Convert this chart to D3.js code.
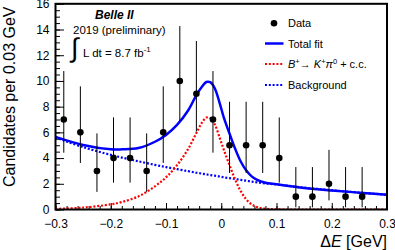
<!DOCTYPE html>
<html>
<head>
<meta charset="utf-8">
<script src="https://cdn.jsdelivr.net/npm/d3@7"></script>
<style>
  body { margin: 0; background: #fff; }
  text { font-family: 'Liberation Sans', Arial, sans-serif; fill: #000; }
</style>
</head>
<body>
<script>
// histogram bins (0.03 GeV wide)
const binCenters = [-0.285, -0.255, -0.225, -0.195, -0.165, -0.135, -0.105, -0.075, -0.045, -0.015,
  0.015, 0.045, 0.075, 0.105, 0.135, 0.165, 0.195, 0.225, 0.255, 0.285]
const counts = [7, 6, 3, 4, 4, 3, 6, 10, 9, 7, 5, 5, 5, 4, 1, 1, 2, 1, 1, 0]
const errLow = [2.58, 2.38, 1.63, 1.91, 1.91, 1.63, 2.38, 3.11, 2.94, 2.58, 2.16, 2.16, 2.16, 1.91, 0.83, 0.83, 1.29, 0.83, 0.83, 0]
const errHigh = [3.77, 3.58, 2.92, 3.16, 3.16, 2.92, 3.58, 4.27, 4.11, 3.77, 3.38, 3.38, 3.38, 3.16, 2.30, 2.30, 2.64, 2.30, 2.30, 0]

// fit curves
const curveX = [-0.30, -0.25, -0.20, -0.18, -0.15, -0.12, -0.10, -0.08, -0.06, -0.045, -0.035, -0.027, -0.02, -0.012,
  -0.003, 0.005, 0.015, 0.025, 0.035, 0.045, 0.055, 0.065, 0.08, 0.10, 0.15, 0.20, 0.25, 0.30]
const totalFit = [5.65, 5.02, 4.68, 4.68, 4.78, 5.27, 5.8, 6.58, 7.7, 8.9, 9.55, 9.92, 9.9, 9.45,
  8.3, 7.1, 5.9, 4.74, 3.75, 3.05, 2.58, 2.3, 2.08, 1.96, 1.68, 1.48, 1.31, 1.15]
const signal = [0.05, 0.15, 0.4, 0.58, 1.02, 1.8, 2.5, 3.45, 4.7, 5.95, 6.75, 7.15, 7.12, 6.65,
  5.6, 4.6, 3.45, 2.35, 1.45, 0.8, 0.4, 0.19, 0.06, 0.01, 0, 0, 0, 0]
const background = [5.6, 4.85, 4.25, 4.04, 3.75, 3.47, 3.3, 3.14, 2.98, 2.86, 2.79, 2.73, 2.68, 2.63,
  2.57, 2.5, 2.44, 2.37, 2.3, 2.24, 2.17, 2.11, 2.03, 1.95, 1.7, 1.5, 1.31, 1.15]

const xTicks = [-0.3, -0.2, -0.1, 0, 0.1, 0.2, 0.3]
const yTicks = [0, 2, 4, 6, 8, 10, 12, 14, 16]

let width = 395,
  height = 250,
  frame = { left: 55.5, right: 387, top: 3.8, bottom: 209.5 }

let svg = d3.select('body').append('svg')
  .attr('width', width)
  .attr('height', height)

let x = d3.scaleLinear().domain([-0.3, 0.3]).range([frame.left, frame.right])
let y = d3.scaleLinear().domain([0, 16]).range([frame.bottom, frame.top])

svg.append('clipPath').attr('id', 'clip')
  .append('rect')
  .attr('x', frame.left).attr('y', frame.top)
  .attr('width', frame.right - frame.left).attr('height', frame.bottom - frame.top)

// axes, ticks inside the frame
let fmt = d => d === 0 ? '0' : d3.format('.1f')(d)

let axisX = d3.axisBottom(x).tickValues(xTicks).tickFormat(fmt).tickSizeInner(-6.5).tickSizeOuter(0).tickPadding(10)
let axisXMinor = d3.axisBottom(x).tickValues(d3.range(-0.3, 0.3001, 0.02)).tickFormat('').tickSizeInner(-3.5).tickSizeOuter(0)
let axisY = d3.axisLeft(y).tickValues(yTicks).tickSizeInner(-8.5).tickSizeOuter(0).tickPadding(6)
let axisYMinor = d3.axisLeft(y).tickValues(d3.range(0, 16.01, 0.5)).tickFormat('').tickSizeInner(-4.5).tickSizeOuter(0)

svg.append('g').attr('transform', 'translate(0,' + frame.bottom + ')').call(axisXMinor)
let gx = svg.append('g').attr('transform', 'translate(0,' + frame.bottom + ')').call(axisX)
svg.append('g').attr('transform', 'translate(' + frame.left + ',0)').call(axisYMinor)
let gy = svg.append('g').attr('transform', 'translate(' + frame.left + ',0)').call(axisY)

svg.selectAll('.domain').remove()
svg.selectAll('.tick line').attr('stroke', '#000').attr('stroke-width', 1)
gx.selectAll('text').attr('font-size', 12).attr('font-family', 'Liberation Sans, Arial, sans-serif')
gy.selectAll('text').attr('font-size', 12).attr('font-family', 'Liberation Sans, Arial, sans-serif')

// curves
let line = ys => d3.line()
  .x((d, i) => x(curveX[i]))
  .y((d, i) => y(ys[i]))
  .curve(d3.curveCatmullRom.alpha(0.5))(curveX)

let curves = svg.append('g').attr('clip-path', 'url(#clip)')

curves.append('path')
  .attr('d', line(background))
  .attr('fill', 'none')
  .attr('stroke', '#0000ff')
  .attr('stroke-width', 2.2)
  .attr('stroke-dasharray', '2,1.8')

curves.append('path')
  .attr('d', line(signal))
  .attr('fill', 'none')
  .attr('stroke', '#ff0000')
  .attr('stroke-width', 2.2)
  .attr('stroke-dasharray', '2,1.8')

curves.append('path')
  .attr('d', line(totalFit))
  .attr('fill', 'none')
  .attr('stroke', '#0000ff')
  .attr('stroke-width', 2.5)

// data points with poisson error bars (empty bins not drawn)
let shown = counts.map((c, i) => i).filter(i => counts[i] > 0)

let points = svg.append('g').selectAll('g')
  .data(shown)
  .enter()
  .append('g')

points.append('line')
  .attr('x1', i => x(binCenters[i])).attr('x2', i => x(binCenters[i]))
  .attr('y1', i => y(counts[i] - errLow[i]))
  .attr('y2', i => y(counts[i] + errHigh[i]))
  .attr('stroke', '#000')
  .attr('stroke-width', 1)

points.append('circle')
  .attr('cx', i => x(binCenters[i]))
  .attr('cy', i => y(counts[i]))
  .attr('r', 3.3)
  .attr('fill', '#000')

// frame
svg.append('rect')
  .attr('x', frame.left).attr('y', frame.top)
  .attr('width', frame.right - frame.left).attr('height', frame.bottom - frame.top)
  .attr('fill', 'none')
  .attr('stroke', '#000')
  .attr('stroke-width', 2)

// axis titles
svg.append('text')
  .attr('x', 387).attr('y', 247)
  .attr('text-anchor', 'end')
  .attr('font-size', 16)
  .html('Δ<tspan font-style="italic">E</tspan> [GeV]')

svg.append('text')
  .attr('transform', 'translate(14.5,6.5) rotate(-90)')
  .attr('text-anchor', 'end')
  .attr('font-size', 16)
  .text('Candidates per 0.03 GeV')

// Belle II label
svg.append('text')
  .attr('x', 95).attr('y', 18.5)
  .attr('font-size', 12)
  .attr('font-weight', 'bold')
  .attr('font-style', 'italic')
  .text('Belle II')

svg.append('text')
  .attr('x', 73).attr('y', 33.5)
  .attr('font-size', 11.5)
  .text('2019 (preliminary)')

svg.append('text')
  .attr('x', 71).attr('y', 57)
  .attr('font-size', 27)
  .attr('font-family', 'DejaVu Sans')
  .text('∫')

svg.append('text')
  .attr('x', 83).attr('y', 57)
  .attr('font-size', 11.5)
  .html('L dt = 8.7 fb<tspan font-size="8" dy="-5">-1</tspan>')

// legend
let leg = svg.append('g').attr('font-size', 11)
let legX = 265, legTextX = 288

leg.append('circle').attr('cx', 274).attr('cy', 23.3).attr('r', 3.3).attr('fill', '#000')
leg.append('text').attr('x', legTextX).attr('y', 27.3).text('Data')

leg.append('line').attr('x1', legX).attr('x2', 283.5).attr('y1', 43.5).attr('y2', 43.5)
  .attr('stroke', '#0000ff').attr('stroke-width', 2.5)
leg.append('text').attr('x', legTextX).attr('y', 47.5).text('Total fit')

leg.append('line').attr('x1', legX).attr('x2', 283.5).attr('y1', 64).attr('y2', 64)
  .attr('stroke', '#ff0000').attr('stroke-width', 2.2).attr('stroke-dasharray', '2,1.8')
leg.append('text').attr('x', legTextX).attr('y', 68)
  .html('<tspan font-style="italic">B</tspan><tspan font-size="7.5" dy="-4.5">+</tspan>' +
    '<tspan dy="4.5">→ </tspan><tspan font-style="italic">K</tspan><tspan font-size="7.5" dy="-4.5">+</tspan>' +
    '<tspan dy="4.5" font-style="italic">π</tspan><tspan font-size="7.5" dy="-4.5">0</tspan>' +
    '<tspan dy="4.5"> + c.c.</tspan>')

leg.append('line').attr('x1', legX).attr('x2', 283.5).attr('y1', 85).attr('y2', 85)
  .attr('stroke', '#0000ff').attr('stroke-width', 2.2).attr('stroke-dasharray', '2,1.8')
leg.append('text').attr('x', legTextX).attr('y', 89).text('Background')
</script>
</body>
</html>
